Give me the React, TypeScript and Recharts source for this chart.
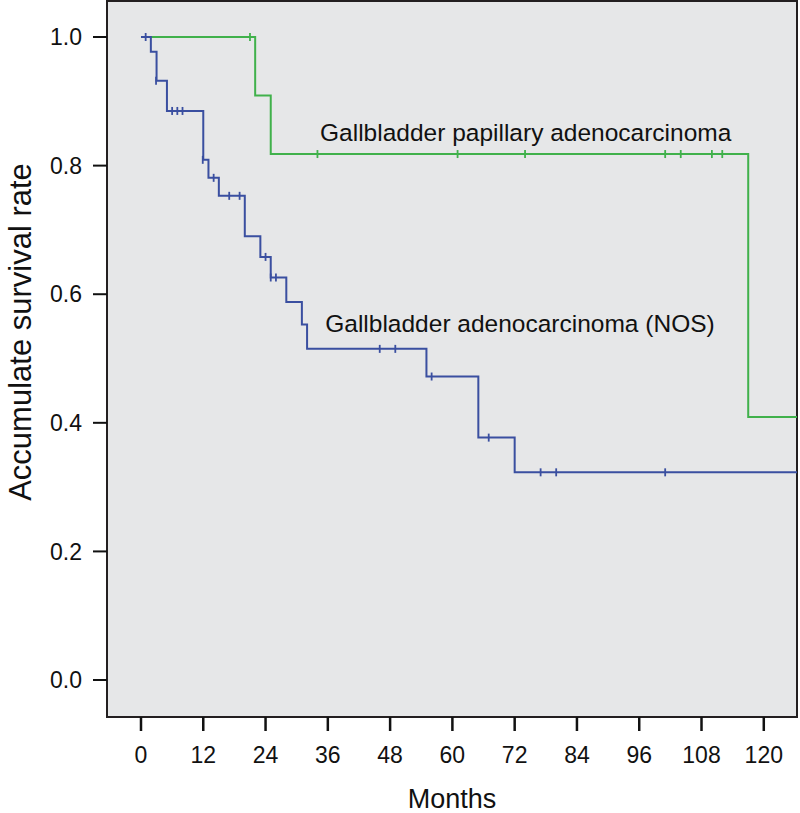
import {
    ComposedChart,
    Line,
    Scatter,
    XAxis,
    YAxis,
    CartesianGrid,
    ReferenceArea,
    ReferenceDot
} from 'recharts';

const FONT = '"Liberation Sans", Arial, Helvetica, sans-serif';

// x axis tick labels (months) and y axis ticks
const monthTicks = [0, 12, 24, 36, 48, 60, 72, 84, 96, 108, 120];
const rateTicks = [0, 0.2, 0.4, 0.6, 0.8, 1.0];

// Gallbladder adenocarcinoma (NOS) - step points
const nosTimes = [0, 1.9, 3, 5, 12, 13, 15, 20, 23, 25, 28, 31, 32, 55, 65, 72, 126.4];
const nosSurvival = [1, 0.977, 0.932, 0.885, 0.809, 0.781, 0.753, 0.69, 0.658, 0.626, 0.588, 0.553, 0.515, 0.472, 0.377, 0.323, 0.323];
// censored cases
const nosCensorTimes = [0.9, 2.9, 6, 7, 8, 11.9, 14, 17, 19, 24, 25, 26, 46, 49, 56, 67, 77, 80, 101];
const nosCensorSurvival = [1, 0.932, 0.885, 0.885, 0.885, 0.809, 0.781, 0.753, 0.753, 0.658, 0.626, 0.626, 0.515, 0.515, 0.472, 0.377, 0.323, 0.323, 0.323];

// Gallbladder papillary adenocarcinoma - step points
const papTimes = [0, 22, 25, 117, 126.4];
const papSurvival = [1, 0.909, 0.818, 0.409, 0.409];
const papCensorTimes = [21, 34, 61, 74, 101, 104, 110, 112];
const papCensorSurvival = [1, 0.818, 0.818, 0.818, 0.818, 0.818, 0.818, 0.818];

const BLUE = '#3a4fa0';
const GREEN = '#40b14b';

const toPoints = (ts: number[], ss: number[]) => ts.map((t, i) => ({ t, s: ss[i] }));

const nosData = toPoints(nosTimes, nosSurvival);
const nosCensored = toPoints(nosCensorTimes, nosCensorSurvival);
const papData = toPoints(papTimes, papSurvival);
const papCensored = toPoints(papCensorTimes, papCensorSurvival);

const X_DOMAIN: [number, number] = [-6.55, 126.4];
const Y_DOMAIN: [number, number] = [-0.0575, 1.056];

const censorMark = (color: string) => (props: any) => (
    <line x1={props.cx} x2={props.cx} y1={props.cy - 4} y2={props.cy + 4} stroke={color} strokeWidth={1.8} />
);

const curveLabel = (text: string) => (props: any) => (
    <text x={props.cx} y={props.cy} fontFamily={FONT} fontSize={24.5} fill="#111">
        {text}
    </text>
);

export default function App() {
    return (
        <div style={{ position: 'absolute', left: 0, top: 0, width: 800, height: 813, background: '#fff' }}>
            <ComposedChart width={800} height={813} margin={{ top: 1, right: 3, bottom: 0, left: 0 }}>
                <CartesianGrid fill="#e6e7e8" horizontal={false} vertical={false} />
                <XAxis
                    dataKey="t"
                    type="number"
                    domain={X_DOMAIN}
                    ticks={monthTicks}
                    allowDataOverflow
                    height={96}
                    axisLine={false}
                    tickSize={14}
                    tickMargin={16}
                    tickLine={{ stroke: '#111', strokeWidth: 2.5 }}
                    tick={{ fill: '#111', fontSize: 23, fontFamily: FONT }}
                    label={{
                        content: (p: any) => (
                            <text
                                x={p.viewBox.x + p.viewBox.width / 2}
                                y={808}
                                textAnchor="middle"
                                fontFamily={FONT}
                                fontSize={27}
                                fill="#111"
                            >
                                Months
                            </text>
                        )
                    }}
                />
                <YAxis
                    dataKey="s"
                    type="number"
                    domain={Y_DOMAIN}
                    ticks={rateTicks}
                    allowDataOverflow
                    width={107}
                    axisLine={false}
                    tickSize={14}
                    tickMargin={11}
                    tickFormatter={(v: number) => v.toFixed(1)}
                    tickLine={{ stroke: '#111', strokeWidth: 2 }}
                    tick={{ fill: '#111', fontSize: 23, fontFamily: FONT }}
                    label={{
                        content: () => (
                            <text
                                x={31}
                                y={332}
                                transform="rotate(-90 31 332)"
                                textAnchor="middle"
                                fontFamily={FONT}
                                fontSize={31}
                                fill="#111"
                            >
                                Accumulate survival rate
                            </text>
                        )
                    }}
                />
                <Line
                    data={papData}
                    dataKey="s"
                    type="stepAfter"
                    stroke={GREEN}
                    strokeWidth={2}
                    dot={false}
                    activeDot={false}
                    isAnimationActive={false}
                />
                <Line
                    data={nosData}
                    dataKey="s"
                    type="stepAfter"
                    stroke={BLUE}
                    strokeWidth={2}
                    dot={false}
                    activeDot={false}
                    isAnimationActive={false}
                />
                <Scatter data={papCensored} dataKey="s" shape={censorMark(GREEN)} isAnimationActive={false} />
                <Scatter data={nosCensored} dataKey="s" shape={censorMark(BLUE)} isAnimationActive={false} />
                <ReferenceDot x={34.5} y={0.838} r={0} shape={curveLabel('Gallbladder papillary adenocarcinoma')} />
                <ReferenceDot x={35.5} y={0.541} r={0} shape={curveLabel('Gallbladder adenocarcinoma (NOS)')} />
                {/* frame around plot area */}
                <ReferenceArea
                    x1={X_DOMAIN[0]}
                    x2={X_DOMAIN[1]}
                    y1={Y_DOMAIN[0]}
                    y2={Y_DOMAIN[1]}
                    fill="none"
                    stroke="#231f20"
                    strokeWidth={2}
                    ifOverflow="visible"
                />
            </ComposedChart>
        </div>
    );
}
